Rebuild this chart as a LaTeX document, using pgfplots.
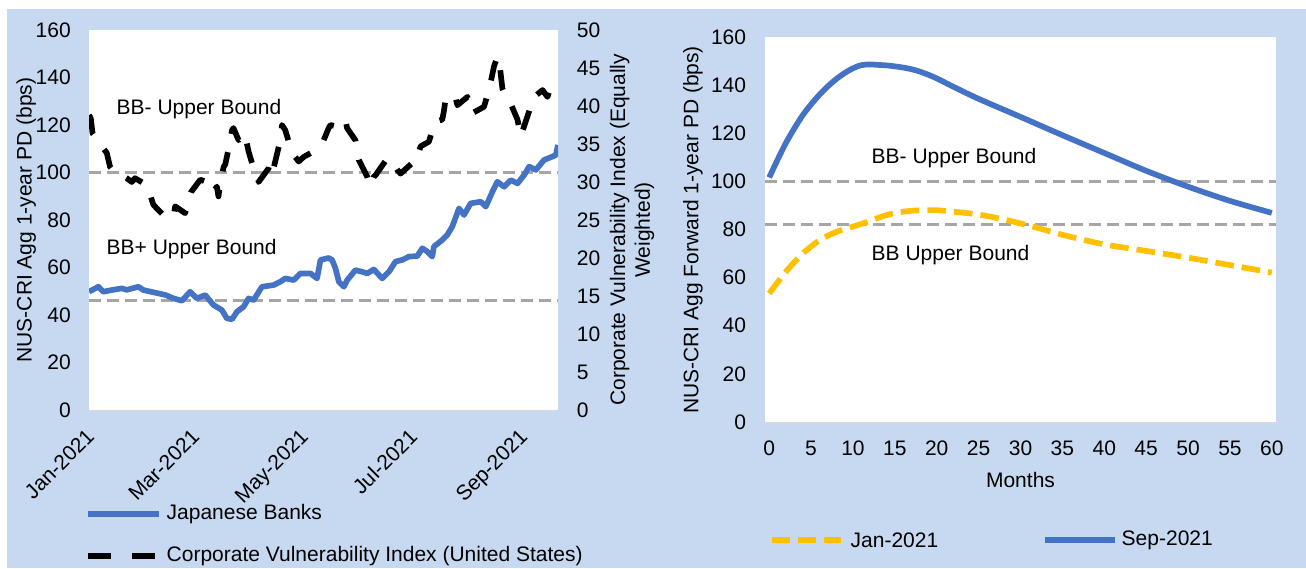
\documentclass[border=0pt]{standalone}
\usepackage{pgfplots}
\pgfplotsset{compat=1.18}
\usepackage{fontspec}
\setmainfont{Liberation Sans}
\definecolor{bgblue}{HTML}{C6D9F0}
\definecolor{jblue}{HTML}{4472C4}
\definecolor{jyellow}{HTML}{FFC000}
\definecolor{dgray}{HTML}{A6A6A6}
\definecolor{lgray}{HTML}{D9D9D9}

\pgfplotstableread{
day val
0 49.8
5.2 51.9
8 49.8
12.7 50.5
18.4 51.2
21.2 50.6
27.7 51.9
30.5 50.5
38.9 49.1
43 48.4
47.4 47.0
52.1 46.0
56.7 49.8
60.5 47.0
65.2 48.4
69.8 44.2
74.5 42.1
77.3 38.6
80.2 38.2
83 41.4
86.7 43.5
89.5 47.0
92.3 46.3
97 51.9
103.5 52.6
107.3 54.0
110.1 55.4
114.8 54.7
118.5 57.5
124.2 57.5
127.9 55.4
129.8 63.2
134.4 64.0
136.3 63.2
138.2 59.7
140.1 54.0
142.9 51.9
144.8 54.7
149.4 58.9
153.2 58.2
156 57.5
159.7 59.2
164.4 55.4
168.2 58.2
171.9 62.5
175.7 63.2
179.4 64.6
184.1 64.8
186.9 68.1
189.7 66.7
192.5 64.6
193.4 68.8
198.1 71.6
200.9 73.7
203.7 77.2
207.5 84.9
210.3 82.1
214 87.0
219.7 87.7
222.5 85.6
226.2 91.9
229 96.1
232.8 94.0
236.5 96.8
240.3 95.4
244 98.9
246.8 102.5
250.6 101.1
255.2 105.3
259.9 106.7
261.8 107.4
263 111.6
}\japanbanks

\pgfplotstableread{
day val
0 38.8
1 38.4
2 36.4
10 33.8
11.8 32.0
13.7 31.4
18.4 30.9
21.2 30.5
24 30.0
25.8 30.5
32.4 29.6
34.3 28.3
36.1 27.0
42.7 25.4
45.5 25.5
47.4 25.4
48.3 26.8
53.9 25.9
55.8 27.6
57.3 28.7
62.4 30.3
66.1 30.0
68 28.9
69.8 28.7
71.7 29.4
72.6 28.1
73.6 29.8
75.5 32.0
76.4 32.3
78.3 34.4
80.2 36.8
81 37.1
83.9 35.5
86.7 36.4
88.5 35.1
89.5 34.0
92.3 31.8
94.2 31.1
95.1 30.0
100.7 31.8
101.7 32.7
102.6 32.9
103.5 31.8
107.3 35.5
108.2 37.5
110.1 36.8
113.9 33.8
117.6 32.7
120.4 33.3
124.2 33.8
127 34.4
129.8 35.1
131.6 35.5
134.4 37.1
135.4 37.5
139.1 37.3
141.9 37.9
143.8 38.2
144.7 37.1
149.4 35.5
150.4 34.2
151.3 32.9
156 30.7
157.9 29.4
159.7 30.7
160.7 30.9
167.2 33.1
170 32.7
172.9 31.6
174.7 31.1
181.3 32.5
184.1 32.7
185 34.0
186 34.7
190.6 35.3
192.5 36.8
194 37.9
198.1 38.2
199 39.3
200 41.0
202.8 41.0
204.7 41.4
205.6 41.0
206.6 40.1
212.2 41.2
213.5 40.1
214.6 39.0
221.5 39.9
223.4 41.4
224.7 42.5
227.1 45.2
229 46.5
230.3 45.4
231.8 42.3
233.7 41.2
236.5 40.3
240.3 38.2
241.2 37.1
242.1 36.0
246.8 39.3
247.8 40.1
248.7 41.0
254.3 42.1
257.1 41.2
259 42.5
259.9 42.8
}\cvi

\pgfplotstableread{
m val
0 101.6
1 109
2 116
3 122
4 127.5
5 132
6 136
7 139.5
8 142.5
9 145
10 147
11 148.3
12 148.6
13 148.4
14 148.2
15 147.8
16 147.3
17 146.6
18 145.6
19 144.3
20 142.8
22 139.3
25 134.3
30 126.8
35 119.2
40 111.8
45 104.4
50 97.8
55 91.9
60 86.9
}\sepdata

\pgfplotstableread{
m val
0 53.4
2 62.5
4 70
6 75.5
8 79
10 81.2
12 83.5
14 86
16 87.4
18 88
20 88
22 87.4
25 86.2
28 84.2
30 82.5
32 80.7
35 77.8
40 73.8
45 71.1
50 68.3
55 65.2
60 62.1
}\jandata

\newcommand{\chartfont}{\fontsize{15.75}{18.5}\selectfont}

\pgfplotsset{
 myaxis/.style={scale only axis, anchor=south west,
   axis background/.style={fill=white},
   axis line style={draw=none}, major tick length=0pt, tick style={draw=none},
   /pgf/number format/assume math mode=true,
   ticklabel style={font=\chartfont, inner sep=0pt},
   label style={font=\chartfont},
   clip=true},
 gline/.style={dgray, line width=2.5pt, dash pattern=on 9pt off 4.5pt},
}

\begin{document}
\begin{tikzpicture}[x=0.75pt,y=0.75pt,font=\chartfont]
\path[use as bounding box, fill=white] (0,0) rectangle (1306,568);
\fill[bgblue] (7,0) rectangle (1306,559);

% ---------- left panel, left axis ----------
\begin{axis}[myaxis, at={(66.75pt,118.5pt)}, width=351.75pt, height=285pt,
  xmin=0, xmax=263, ymin=0, ymax=160, ytick={0,20,...,160},
  xtick={0,59,120,181,243},
  xticklabels={Jan-2021,Mar-2021,May-2021,Jul-2021,Sep-2021},
  xticklabel style={xshift=-3pt, yshift=-13pt, rotate=45, anchor=north east},
  yticklabel style={anchor=east, xshift=-13.5pt},
  ylabel={NUS-CRI Agg 1-year PD (bps)},
  ylabel style={at={(axis description cs:-0.134,0.5)}, anchor=center}]
\draw[lgray, line width=0.75pt] (rel axis cs:0,0) -- (rel axis cs:1,0);
\addplot[gline] coordinates {(0,100) (263,100)};
\addplot[gline] coordinates {(0,46) (263,46)};
\addplot[jblue, line width=4.25pt, line join=round] table[x=day, y=val] {\japanbanks};
\end{axis}

% ---------- left panel, right axis ----------
\begin{axis}[myaxis, axis background/.style={fill=none},
  at={(66.75pt,118.5pt)}, width=351.75pt, height=285pt,
  xmin=0, xmax=263, ymin=0, ymax=50, ytick={0,5,...,50}, xtick=\empty,
  axis y line*=right, axis x line=none,
  yticklabel style={anchor=west, xshift=14pt},
  ylabel={Corporate Vulnerability Index (Equally\\Weighted)},
  ylabel style={align=center, at={(axis description cs:1.158,0.474)}, anchor=center}]
\addplot[black, line width=4.25pt, line join=round, dash pattern=on 15pt off 14pt] table[x=day, y=val] {\cvi};
\end{axis}

\node[anchor=west] at (112,459) {BB- Upper Bound};
\node[anchor=west] at (102,319) {BB+ Upper Bound};

% legend left
\draw[jblue, line width=4.25pt] (88,54) -- (159,54);
\node[anchor=west] at (162,54) {Japanese Banks};
\draw[black, line width=4.25pt, dash pattern=on 17pt off 16pt] (88,12) -- (159,12);
\node[anchor=west] at (162,12) {Corporate Vulnerability Index (United States)};

% ---------- right panel ----------
\begin{axis}[myaxis, at={(573.75pt,109.5pt)}, width=383.25pt, height=288.75pt,
  xmin=-0.5, xmax=60.5, ymin=0, ymax=160,
  xtick={0,5,...,60}, ytick={0,20,...,160},
  xticklabel style={anchor=north, yshift=-14pt},
  yticklabel style={anchor=east, xshift=-14pt},
  xlabel={Months},
  xlabel style={at={(axis description cs:0.5,-0.151)}, anchor=center},
  ylabel={NUS-CRI Agg Forward 1-year PD (bps)},
  ylabel style={at={(axis description cs:-0.141,0.499)}, anchor=center}]
\draw[lgray, line width=0.75pt] (rel axis cs:0,0) -- (rel axis cs:1,0);
\addplot[gline] coordinates {(-0.5,100) (60.5,100)};
\addplot[gline] coordinates {(-0.5,82) (60.5,82)};
\addplot[jyellow, line width=4.25pt, smooth, dash pattern=on 14pt off 6pt] table[x=m, y=val] {\jandata};
\addplot[jblue, line width=4.25pt, smooth] table[x=m, y=val] {\sepdata};
\end{axis}

\node[anchor=west] at (867,410) {BB- Upper Bound};
\node[anchor=west] at (867,313) {BB Upper Bound};

% legend right
\draw[jyellow, line width=4.25pt, dash pattern=on 13.5pt off 6pt] (772,28) -- (841,28);
\node[anchor=west] at (846,28) {Jan-2021};
\draw[jblue, line width=4.25pt] (1045,28) -- (1115,28);
\node[anchor=west] at (1117,28) {Sep-2021};
\end{tikzpicture}
\end{document}
